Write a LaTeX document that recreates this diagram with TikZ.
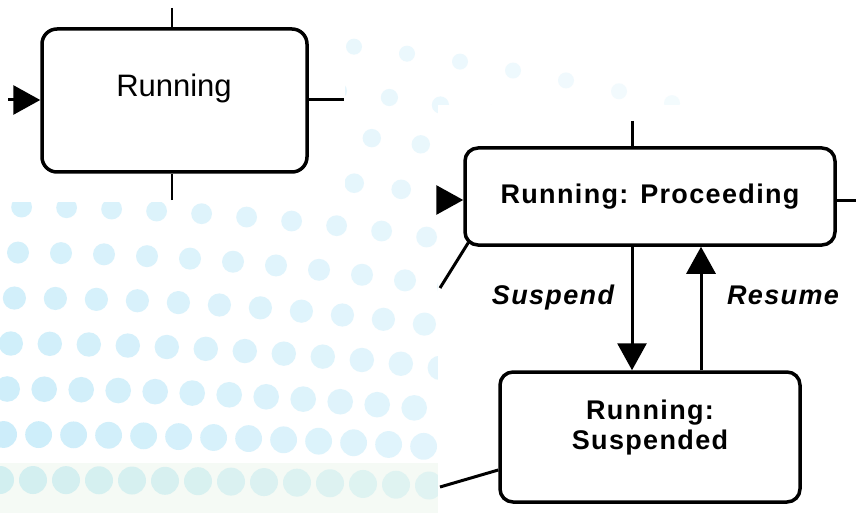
\documentclass[tikz,border=0pt]{standalone}
\usepackage{fontspec}
\setmainfont{Liberation Sans}
\newfontfamily\spacedfont{Liberation Sans}[LetterSpace=5]
\usetikzlibrary{arrows.meta}

\definecolor{dotblue}{RGB}{203,237,250}
\definecolor{dotteal}{RGB}{210,239,240}
\definecolor{bandgreen}{RGB}{245,250,245}

\begin{document}
\begin{tikzpicture}[x=1pt,y=-1pt,
    state/.style={draw, line width=3.5pt, rounded corners=14pt, fill=white},
    stub/.style={line width=2.5pt},
    wire/.style={line width=3pt},
    trans/.style={line width=3pt, -{Triangle[length=27pt,width=29pt]}},
    plain/.style={font=\fontsize{31}{34}\selectfont},
    bold/.style={font=\spacedfont\fontsize{27}{30}\selectfont\bfseries},
    event/.style={font=\spacedfont\fontsize{27}{30}\selectfont\bfseries\itshape}]
  \useasboundingbox (0,0) rectangle (856,513);
  \fill[white] (0,0) rectangle (856,513);

  \begin{scope}
    \clip (0,0) rectangle (856,513);
    \fill[bandgreen] (0,463) rectangle (438,513);
    \foreach \c [count=\i from 0] in {0.3,0.66,1.1,1.26,1.45,1.7,1.65,1.73,1.6,1.78,1.73} {
      \pgfmathsetmacro{\dx}{33+2*\i}
      \pgfmathsetmacro{\rr}{14-0.6*\i}
      \ifnum\i=0 \def\dc{dotteal}\else\def\dc{dotblue}\fi
      \foreach \k in {0,...,22} {
        \pgfmathsetmacro{\xx}{3.6*\i+\k*\dx}
        \pgfmathsetmacro{\yy}{480-45.5*\i+\c*(\xx/100)^2}
        \pgfmathsetmacro{\op}{max(0,(1-\xx/1000)*(1-0.035*\i))}
        \fill[\dc, fill opacity=\op] (\xx,\yy) circle (\rr pt);
      }
    }
  \end{scope}

  \fill[white] (0,0) rectangle (345,202);
  \fill[white] (438,105) rectangle (856,513);

  \node[state, rounded corners=15pt, minimum width=265pt, minimum height=143pt] (run) at (174.5,100.5) {};
  \node[plain, anchor=base] (runtext) at (174,97) {Running};
  \coordinate (runtop) at (172,8);
  \coordinate (runbot) at (172,200);
  \coordinate (runout) at (344,100);
  \coordinate (runin) at (8,100);
  \draw[stub] (runtop) -- (runtop |- run.north);
  \draw[stub] (runbot) -- (runbot |- run.south);
  \draw[wire] (runout -| run.east) -- (runout);
  \draw[trans] (runin) -- (runin -| run.west);

  \node[state, bold, rounded corners=13pt, minimum width=370pt, minimum height=97pt] (proc) at (650,196.5) {Running: Proceeding};
  \node[state, rounded corners=13pt, minimum width=300pt, minimum height=130pt] (susp) at (650,437) {};
  \node[bold, align=center] (susptext) at ([yshift=9pt]susp.center) {Running:\\Suspended};

  \coordinate (proctop) at (632,121);
  \coordinate (procin) at (438,200);
  \coordinate (procout) at (856,200);
  \coordinate (resx) at (701,0);
  \coordinate (procdiag) at (440,288);
  \coordinate (suspdiag) at (440,487);
  \draw[wire] (proctop) -- (proctop |- proc.north);
  \draw[trans] (procin) -- (procin -| proc.west);
  \draw[wire] (procout -| proc.east) -- (procout);
  \draw[trans] (proctop |- proc.south) -- (proctop |- susp.north);
  \draw[trans] (resx |- susp.north) -- (resx |- proc.south);
  \draw[wire] ([shift={(5pt,4pt)}]proc.south west) -- (procdiag);
  \draw[wire] ([yshift=-33pt]susp.west) -- (suspdiag);

  \node[event, anchor=base] (suspend) at (553,304) {Suspend};
  \node[event, anchor=base] (resume) at (783,304) {Resume};
\end{tikzpicture}
\end{document}
